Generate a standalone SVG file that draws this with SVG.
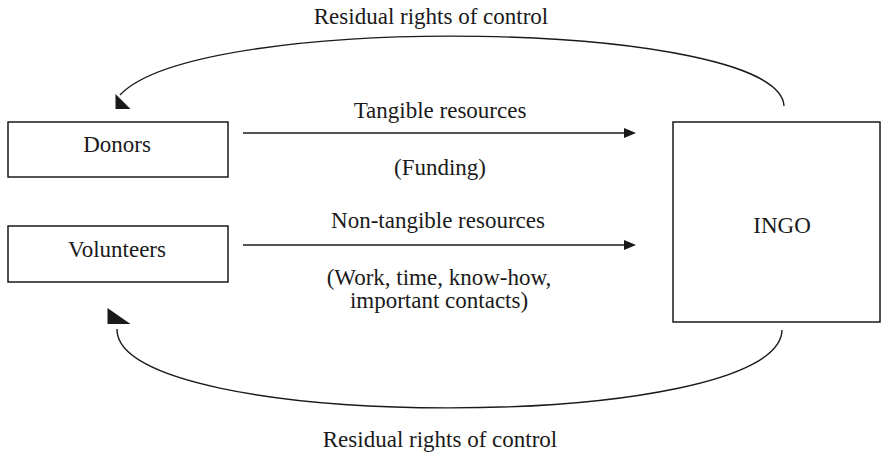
<svg xmlns="http://www.w3.org/2000/svg" width="888" height="454" viewBox="0 0 888 454">
<style>
.box{fill:#fff;stroke:#1a1a1a;stroke-width:1.5}
.ln{fill:none;stroke:#1a1a1a;stroke-width:1.4}
.hd{fill:#1a1a1a}
text{font-family:"Liberation Serif","Times New Roman",serif;font-size:23px;fill:#1a1a1a;text-anchor:middle}
</style>
<rect width="888" height="454" fill="#fff"/>
<g id="donors"><rect class="box" x="8" y="122" width="220" height="55"/><text x="117" y="152">Donors</text></g>
<g id="volunteers"><rect class="box" x="8" y="226" width="220" height="56"/><text x="117" y="257">Volunteers</text></g>
<g id="ingo"><rect class="box" x="673" y="122" width="207" height="200"/><text x="782" y="233">INGO</text></g>
<g id="connectors">
<line class="ln" x1="243" y1="133" x2="626" y2="133"/>
<polygon class="hd" points="624,128 636,133 624,138"/>
<line class="ln" x1="243" y1="245" x2="626" y2="245"/>
<polygon class="hd" points="624,240 636,245 624,250"/>
<path class="ln" d="M784,106 C780,20 200,10 120,95"/>
<polygon class="hd" points="115.5,94 115.5,109 130.5,109"/>
<path class="ln" d="M117,329 C115,434 780,434 782,330"/>
<polygon class="hd" points="107.5,308 107.5,324 130.5,324"/>
</g>
<g id="labels">
<text x="431" y="24">Residual rights of control</text>
<text x="440" y="118">Tangible resources</text>
<text x="440" y="175">(Funding)</text>
<text x="438" y="228">Non-tangible resources</text>
<text x="439" y="285">(Work, time, know-how,</text>
<text x="439" y="308">important contacts)</text>
<text x="440" y="447">Residual rights of control</text>
</g>
</svg>
